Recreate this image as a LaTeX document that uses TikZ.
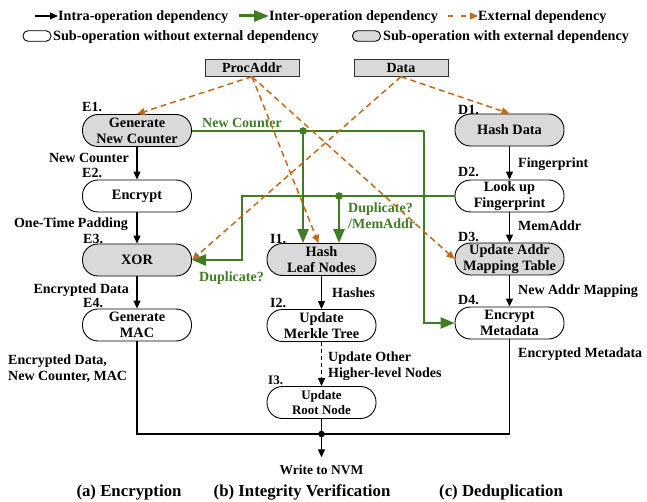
\documentclass[tikz,border=0pt]{standalone}
\usepackage{fontspec}
\setmainfont{Liberation Serif}
\usetikzlibrary{arrows.meta,calc}
\definecolor{grn}{RGB}{62,125,36}
\definecolor{org}{RGB}{196,106,22}
\definecolor{boxgray}{RGB}{217,217,217}
\tikzset{
 op/.style={draw=black, line width=0.9pt, rounded corners=15.5pt, minimum width=109pt, minimum height=32pt, align=center, font=\bfseries\fontsize{14.3}{16}\selectfont, inner sep=0pt},
 opx/.style={op, fill=boxgray},
 srcbox/.style={draw=black!80, fill=boxgray, line width=0.9pt, minimum width=94pt, minimum height=16.5pt, inner sep=0pt, font=\bfseries\fontsize{14}{15}\selectfont},
 lbl/.style={font=\bfseries\fontsize{14}{16}\selectfont, inner sep=0pt, text height=9.5pt, text depth=0pt},
 mlbl/.style={font=\bfseries\fontsize{14}{16}\selectfont, inner sep=0pt, align=left},
 blk/.style={draw=black, line width=1.2pt, -{Triangle[length=8pt,width=7pt]}},
 grnline/.style={draw=grn, line width=2.4pt},
 grnarr/.style={grnline, -{Triangle[length=14pt,width=11pt]}},
 ext/.style={draw=org, line width=1.5pt, dash pattern=on 6pt off 4pt, -{Triangle[length=8pt,width=7pt]}},
 legtext/.style={font=\bfseries\fontsize{14.2}{16}\selectfont, inner sep=0pt, anchor=west, text height=9.5pt, text depth=0pt},
 legbox/.style={draw=black, line width=0.9pt, rounded corners=5pt, minimum width=28pt, minimum height=10.5pt, inner sep=0pt},
 captext/.style={font=\bfseries\fontsize{16.8}{19}\selectfont, inner sep=0pt}
}
\begin{document}
\begin{tikzpicture}[x=1pt,y=-1pt]
\useasboundingbox (0,0) rectangle (647,502);
% legend
\coordinate (la1) at (35,16);
\node[legtext] (lt1) at (58,16) {Intra-operation dependency};
\draw[blk] (la1) -- (lt1.west);
\coordinate (la2) at (239,16);
\node[legtext] (lt2) at (269,16) {Inter-operation dependency};
\draw[grnline, line width=3pt, -{Triangle[length=15pt,width=11pt]}] (la2) -- (lt2.west);
\coordinate (la3) at (448,16);
\node[legtext] (lt3) at (478,16) {External dependency};
\draw[ext, dash pattern=on 5pt off 8pt] (la3) -- (lt3.west);
\node[legbox] (lb1) at (37,36) {};
\node[legtext] (lt4) at (53,35.5) {Sub-operation without external dependency};
\node[legbox, fill=boxgray] (lb2) at (366.5,36) {};
\node[legtext] (lt5) at (383,35.5) {Sub-operation with external dependency};
% sources
\node[srcbox] (PA) at (252,68) {ProcAddr};
\node[srcbox] (DA) at (401,68) {Data};
% encryption
\node[opx] (E1) at (137,130.5) {Generate\\New Counter};
\node[op]  (E2) at (137,196) {Encrypt};
\node[opx] (E3) at (137,260) {XOR};
\node[op]  (E4) at (137,325) {Generate\\MAC};
% integrity
\node[opx] (I1) at (321.5,259.5) {Hash\\Leaf Nodes};
\node[op]  (I2) at (321.5,325.5) {Update\\Merkle Tree};
\node[op, font=\bfseries\fontsize{13}{15}\selectfont] (I3) at (321.5,402.5) {Update\\Root Node};
% dedup
\node[opx] (D1) at (509.5,130) {Hash Data};
\node[op]  (D2) at (509.5,196) {Look up\\Fingerprint};
\node[opx] (D3) at (509.5,259) {Update Addr\\Mapping Table};
\node[op]  (D4) at (509.5,323) {Encrypt\\Metadata};
% step labels
\node[lbl, anchor=west] (le1) at (82,107) {E1.};
\node[lbl, anchor=west] (le2) at (82,173) {E2.};
\node[lbl, anchor=west] (le3) at (83,239) {E3.};
\node[lbl, anchor=west] (le4) at (83,303) {E4.};
\node[lbl, anchor=west] (li1) at (270,239) {I1.};
\node[lbl, anchor=west] (li2) at (270,303) {I2.};
\node[lbl, anchor=west, font=\bfseries\fontsize{13}{15}\selectfont] (li3) at (268,380) {I3.};
\node[lbl, anchor=west] (ld1) at (458,110) {D1.};
\node[lbl, anchor=west] (ld2) at (458,172) {D2.};
\node[lbl, anchor=west] (ld3) at (458,237) {D3.};
\node[lbl, anchor=west] (ld4) at (458,300) {D4.};
% black arrows and labels
\draw[blk] (E1) -- (E2);
\draw[blk] (E2) -- (E3);
\draw[blk] (E3) -- (E4);
\node[lbl, anchor=east] (t1) at (129,158) {New Counter};
\node[lbl, anchor=east] (t2) at (128,223) {One-Time Padding};
\node[lbl, anchor=east] (t3) at (129,289) {Encrypted Data};
\node[mlbl, anchor=north west] (t4) at (8,355) {Encrypted Data,\\New Counter, MAC};
\draw[blk] (I1) -- (I2);
\draw[blk, dash pattern=on 4pt off 3pt] (I2) -- (I3);
\node[lbl, anchor=west] (t5) at (332,293) {Hashes};
\node[mlbl, anchor=north west] (t6) at (328,352) {Update Other\\Higher-level Nodes};
\draw[blk] (D1) -- (D2);
\draw[blk] (D2) -- (D3);
\draw[blk] (D3) -- (D4);
\node[lbl, anchor=west] (t7) at (518,163) {Fingerprint};
\node[lbl, anchor=west] (t8) at (518,226) {MemAddr};
\node[lbl, anchor=west] (t9) at (518,290) {New Addr Mapping};
\node[lbl, anchor=west] (t10) at (518,353) {Encrypted Metadata};
% merge to NVM
\coordinate (j3) at (321.5,434);
\node[lbl, font=\bfseries\fontsize{13.5}{15}\selectfont, text height=9pt] (nvm) at (321.5,470) {Write to NVM};
\draw[line width=1.2pt] (E4.south) -- (E4.south |- j3) -- (D4.south |- j3) -- (D4.south);
\draw[line width=1.2pt] (I3.south) -- (j3);
\draw[blk] (j3) -- ([yshift=8pt]nvm.north);
\fill (j3) circle (3.3pt);
% green inter-op connectors
\coordinate (g1) at (424,131);
\coordinate (j1) at (303,131);
\draw[grnline] (E1.east |- g1) -- (g1);
\draw[grnarr] (g1) |- (D4.west);
\draw[grnarr] (j1) -- (j1 |- I1.north);
\fill[grn] (j1) circle (3.8pt);
\coordinate (g2) at (242,196);
\coordinate (j2) at (339,196);
\draw[grnarr] (D2.west) -- (g2) |- (E3.east);
\draw[grnarr] (j2) -- (j2 |- I1.north);
\fill[grn] (j2) circle (3.8pt);
\node[lbl, anchor=west, text=grn] (gt1) at (202,123) {New Counter};
\node[lbl, anchor=west, text=grn] (gt2) at (199,277) {Duplicate?};
\node[mlbl, anchor=north west, text=grn] (gt3) at (348,203) {Duplicate?\\/MemAddr};
% external dependencies
\draw[ext] (PA.south) -- (E1.north);
\draw[ext] (PA.south) -- ([xshift=-3pt]I1.north);
\draw[ext] (PA.south) -- (D3.west);
\draw[ext] (DA.south) -- (E3.east);
\draw[ext] (DA.south) -- (D1.north);
% captions
\node[captext] (c1) at (129,492) {(a) Encryption};
\node[captext] (c2) at (302,492) {(b) Integrity Verification};
\node[captext] (c3) at (501,492) {(c) Deduplication};
\end{tikzpicture}
\end{document}
